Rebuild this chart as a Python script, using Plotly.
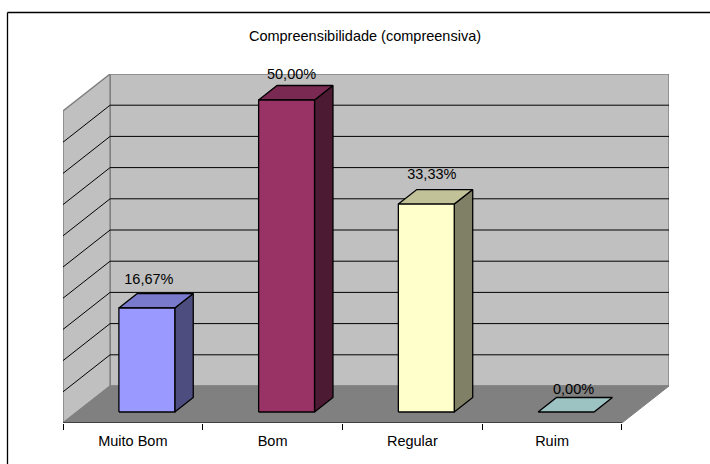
import plotly.graph_objects as go

# Chart data
categories = ["Muito Bom", "Bom", "Regular", "Ruim"]
values = [16.67, 50.0, 33.33, 0.0]
value_labels = ["16,67%", "50,00%", "33,33%", "0,00%"]
grid_values = [5, 10, 15, 20, 25, 30, 35, 40, 45]

front_colors = ["#9999FF", "#993366", "#FFFFCC", "#CCFFFF"]
side_colors = ["#4D4D80", "#4D1A33", "#808066", "#668080"]
top_colors = ["#7A7ACC", "#7A2952", "#C2C299", "#9CC2C2"]

# Page geometry, in pixels
WIDTH, HEIGHT = 710, 464
MARGIN = dict(l=63, r=41, t=74, b=41)
PX_PER_CAT = 139.5
PX_PER_PCT = 6.24

# Oblique projection of the 3D box, in axis units
Y_MAX = 50.0
DEPTH_X = 47 / PX_PER_CAT
DEPTH_Y = 37 / PX_PER_PCT
BAR_WIDTH = 0.4
BAR_D0 = 0.297
BAR_D1 = 0.689
FONT = dict(family="Liberation Sans", size=14.5, color="#000000")

# Nudges for the value labels relative to the bar centre and the back edge of the top face
label_dx_px = [2, 5, 5.5, 7.5]
label_dy_px = [13, 10, 14, 7]


def project(cat, val, depth):
    return cat + DEPTH_X * depth, val + DEPTH_Y * depth


def polygon(corners, fill, line, width=1.0):
    pts = [project(*c) for c in corners]
    pts.append(pts[0])
    return go.Scatter(
        x=[p[0] for p in pts],
        y=[p[1] for p in pts],
        mode="lines",
        fill="toself",
        fillcolor=fill,
        line=dict(color=line, width=width),
        hoverinfo="skip",
        showlegend=False,
    )


def polyline(corners, color, width=1.0):
    pts = [project(*c) for c in corners]
    return go.Scatter(
        x=[p[0] for p in pts],
        y=[p[1] for p in pts],
        mode="lines",
        line=dict(color=color, width=width),
        hoverinfo="skip",
        showlegend=False,
    )


n = len(categories)
fig = go.Figure()

# Walls and floor
fig.add_trace(polygon([(0, 0, 1), (n, 0, 1), (n, Y_MAX, 1), (0, Y_MAX, 1)], "#C0C0C0", "#808080", 1.5))
fig.add_trace(polygon([(0, 0, 0), (0, 0, 1), (0, Y_MAX, 1), (0, Y_MAX, 0)], "#C0C0C0", "#808080", 1.5))
fig.add_trace(polygon([(0, 0, 0), (n, 0, 0), (n, 0, 1), (0, 0, 1)], "#808080", "#808080", 1.0))

# Gridlines wrap around the side wall and the back wall
for g in grid_values:
    fig.add_trace(polyline([(0, g, 0), (0, g, 1), (n, g, 1)], "#000000", 1.0))

# Category axis baseline
fig.add_trace(polyline([(0, 0, 0), (n, 0, 0)], "#000000", 1.0))

# Bars: side, top and front faces
for i, v in enumerate(values):
    left = i + 0.5 - BAR_WIDTH / 2
    right = i + 0.5 + BAR_WIDTH / 2
    if v > 0:
        fig.add_trace(polygon([(right, 0, BAR_D0), (right, 0, BAR_D1), (right, v, BAR_D1), (right, v, BAR_D0)], side_colors[i], "#000000", 1.3))
    fig.add_trace(polygon([(left, v, BAR_D0), (right, v, BAR_D0), (right, v, BAR_D1), (left, v, BAR_D1)], top_colors[i], "#000000", 1.3))
    if v > 0:
        fig.add_trace(polygon([(left, 0, BAR_D0), (right, 0, BAR_D0), (right, v, BAR_D0), (left, v, BAR_D0)], front_colors[i], "#000000", 1.3))

# Value labels float above the back edge of each bar top
label_x = []
label_y = []
for i, v in enumerate(values):
    x0, _ = project(i + 0.5, v, BAR_D0)
    _, y1 = project(i + 0.5, v, BAR_D1)
    label_x.append(x0 + label_dx_px[i] / PX_PER_CAT)
    label_y.append(y1 + label_dy_px[i] / PX_PER_PCT)
fig.add_trace(go.Scatter(
    x=label_x,
    y=label_y,
    mode="text",
    text=value_labels,
    textposition="middle center",
    textfont=FONT,
    cliponaxis=False,
    hoverinfo="skip",
    showlegend=False,
))

plot_w = WIDTH - MARGIN["l"] - MARGIN["r"]
plot_h = HEIGHT - MARGIN["t"] - MARGIN["b"]


def paper_x(px):
    return (px - MARGIN["l"]) / plot_w


def paper_y(px):
    return (HEIGHT - MARGIN["b"] - px) / plot_h


# Frame: only the top and left rules fall inside the page
frame_style = dict(type="line", xref="paper", yref="paper", line=dict(color="#000000", width=1.3))
frame = [
    dict(x0=paper_x(7.5), x1=paper_x(WIDTH), y0=paper_y(12.5), y1=paper_y(12.5), **frame_style),
    dict(x0=paper_x(7.5), x1=paper_x(7.5), y0=paper_y(12.5), y1=paper_y(HEIGHT), **frame_style),
]

fig.update_layout(
    width=WIDTH,
    height=HEIGHT,
    margin=MARGIN,
    paper_bgcolor="#FFFFFF",
    plot_bgcolor="#FFFFFF",
    font=FONT,
    title=dict(
        text="Compreensibilidade (compreensiva)",
        x=365 / WIDTH,
        xanchor="center",
        y=1 - 36 / HEIGHT,
        yanchor="middle",
        font=FONT,
    ),
    showlegend=False,
    xaxis=dict(
        range=[0, n + DEPTH_X],
        tickmode="array",
        tickvals=[i + 0.5 for i in range(n)],
        ticktext=categories,
        ticks="",
        ticklabelstandoff=7,
        showgrid=False,
        zeroline=False,
        showline=False,
        minor=dict(tickmode="array", tickvals=list(range(n + 1)), ticks="outside", ticklen=6, tickcolor="#000000", tickwidth=1, showgrid=False),
        fixedrange=True,
    ),
    yaxis=dict(
        range=[0, Y_MAX + DEPTH_Y],
        visible=False,
        fixedrange=True,
    ),
    shapes=frame,
)

fig.write_html("out.html")
